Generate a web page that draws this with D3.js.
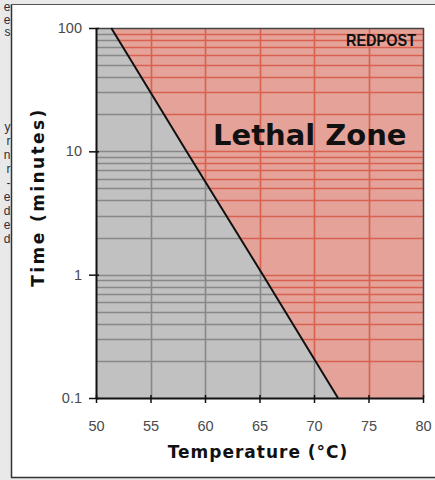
<!DOCTYPE html>
<html>
<head>
    <meta charset="utf-8" />
    <title>Lethal Zone</title>
    <style>
        body { margin: 0; background: #e9e9e9; }
        #chart { width: 435px; height: 480px; }
        text { font-family: "Liberation Sans", Arial, sans-serif; }
    </style>
</head>
<body>
    <div id="chart"></div>
    <script src="https://cdnjs.cloudflare.com/ajax/libs/d3/7.8.5/d3.min.js"></script>
    <script>
        // data
        var tempTicks = [50, 55, 60, 65, 70, 75, 80];
        var timeTicks = [0.1, 1, 10, 100];
        var lethalTemp = [51.4, 58.3, 65.3, 72.2];
        var lethalTime = [100, 10, 1, 0.1];
        // cut off paragraph endings on the left of the page
        var sideChars = ["e", "e", "s", "", "", "", "", "", "y", "r", "n", "r", "-", "e", "d", "e", "d"];

        (function () {
        var width = 435, height = 480;
        var pLeft = 96, pRight = 423, pTop = 28, pBottom = 398;

        var svg = d3.select("#chart").append("svg")
            .attr("width", width)
            .attr("height", height);

        // page frame
        svg.append("rect").attr("x", 12).attr("y", 5).attr("width", width - 12).attr("height", 472).attr("fill", "#fff");
        svg.append("line").attr("x1", 11.5).attr("x2", 11.5).attr("y1", 4).attr("y2", 478).attr("stroke", "#333").attr("stroke-width", 1.5);
        svg.append("line").attr("x1", 11).attr("x2", width).attr("y1", 4.5).attr("y2", 4.5).attr("stroke", "#555");
        svg.append("line").attr("x1", 11).attr("x2", width).attr("y1", 477.5).attr("y2", 477.5).attr("stroke", "#333").attr("stroke-width", 1.5);

        svg.append("g").selectAll("text")
            .data(sideChars)
            .enter().append("text")
            .attr("x", 10.5)
            .attr("y", function (d, i) { return i < 3 ? 11 + i * 12.5 : 131 + (i - 8) * 14; })
            .attr("text-anchor", "end")
            .attr("font-size", 12)
            .attr("fill", "#2a2e3c")
            .text(function (d) { return d; });

        var x = d3.scaleLinear().domain([50, 80]).range([pLeft, pRight]);
        var y = d3.scaleLog().domain([0.1, 100]).range([pBottom, pTop]);

        var pts = lethalTemp.map(function (t, i) { return [t, lethalTime[i]]; });
        var greyPoly = [[50, 100]].concat(pts).concat([[50, 0.1]]);
        var redPoly = pts.concat([[80, 0.1], [80, 100]]);
        var poly = d3.line().x(function (d) { return x(d[0]); }).y(function (d) { return y(d[1]); });

        var defs = svg.append("defs");
        defs.append("clipPath").attr("id", "clipGrey").append("path").attr("d", poly(greyPoly) + "Z");
        defs.append("clipPath").attr("id", "clipRed").append("path").attr("d", poly(redPoly) + "Z");

        // minor log ticks for the horizontal grid
        var hLines = y.ticks().filter(function (v) { return v > 0.1 && v < 100; });
        var vLines = tempTicks.slice(1, -1);

        function drawGrid(clip, fill, stroke) {
            var g = svg.append("g").attr("clip-path", "url(#" + clip + ")");
            g.append("rect").attr("x", pLeft).attr("y", pTop).attr("width", pRight - pLeft).attr("height", pBottom - pTop).attr("fill", fill);
            g.selectAll(".h").data(hLines).enter().append("line")
                .attr("x1", pLeft).attr("x2", pRight)
                .attr("y1", function (d) { return Math.round(y(d)) + 0.5; })
                .attr("y2", function (d) { return Math.round(y(d)) + 0.5; })
                .attr("stroke", stroke).attr("stroke-width", 1.6);
            g.selectAll(".v").data(vLines).enter().append("line")
                .attr("y1", pTop).attr("y2", pBottom)
                .attr("x1", function (d) { return Math.round(x(d)) + 0.5; })
                .attr("x2", function (d) { return Math.round(x(d)) + 0.5; })
                .attr("stroke", stroke).attr("stroke-width", 1.6);
        }
        drawGrid("clipGrey", "#c1c1c1", "#888888");
        drawGrid("clipRed", "#e5a299", "#d8614f");

        // plot frame (top and right)
        svg.append("path")
            .attr("d", "M" + pLeft + "," + (pTop + 0.5) + "H" + (pRight + 0.5) + "V" + pBottom)
            .attr("fill", "none").attr("stroke", "#444").attr("stroke-width", 1.5);

        // lethal line
        svg.append("path").attr("d", poly(pts))
            .attr("fill", "none").attr("stroke", "#111").attr("stroke-width", 2);

        // axes
        var yAxis = svg.append("g").attr("transform", "translate(" + pLeft + ",0)")
            .call(d3.axisLeft(y).tickValues(timeTicks).tickFormat(d3.format("")).tickSizeInner(7).tickSizeOuter(0).tickPadding(7));
        var xAxis = svg.append("g").attr("transform", "translate(0," + pBottom + ")")
            .call(d3.axisBottom(x).tickValues(tempTicks).tickSizeInner(5).tickSizeOuter(0).tickPadding(18));
        [yAxis, xAxis].forEach(function (a) {
            a.select(".domain").attr("stroke", "#111").attr("stroke-width", 2);
            a.selectAll(".tick line").attr("stroke", "#111").attr("stroke-width", 1.5);
            a.selectAll(".tick text").attr("font-family", "Liberation Sans, Arial, sans-serif").attr("font-size", 14.5).attr("fill", "#4a4a4a");
        });
        yAxis.selectAll(".tick line").attr("x2", 3).attr("x1", -7);
        xAxis.selectAll(".tick line").attr("y1", -3).attr("y2", 5);

        // titles
        svg.append("text")
            .attr("x", 258).attr("y", 458)
            .attr("text-anchor", "middle")
            .style("font-family", "DejaVu Sans, Verdana, sans-serif")
            .style("letter-spacing", "1px")
            .attr("font-weight", "bold").attr("font-size", 17).attr("fill", "#111")
            .text("Temperature (°C)");
        svg.append("text")
            .attr("transform", "translate(44," + 197 + ") rotate(-90)")
            .attr("text-anchor", "middle")
            .style("font-family", "DejaVu Sans, Verdana, sans-serif")
            .style("letter-spacing", "2.4px")
            .attr("font-weight", "bold").attr("font-size", 17).attr("fill", "#111")
            .text("Time (minutes)");

        svg.append("text")
            .attr("x", 213).attr("y", 145)
            .style("font-family", "DejaVu Sans, Verdana, sans-serif")
            .attr("font-weight", "bold").attr("font-size", 29).attr("fill", "#111")
            .text("Lethal Zone");

        svg.append("text")
            .attr("x", 346).attr("y", 46)
            .attr("font-weight", "bold").attr("font-size", 17).attr("fill", "#111")
            .attr("textLength", 70).attr("lengthAdjust", "spacingAndGlyphs")
            .text("REDPOST");
        })();
    </script>
</body>
</html>
